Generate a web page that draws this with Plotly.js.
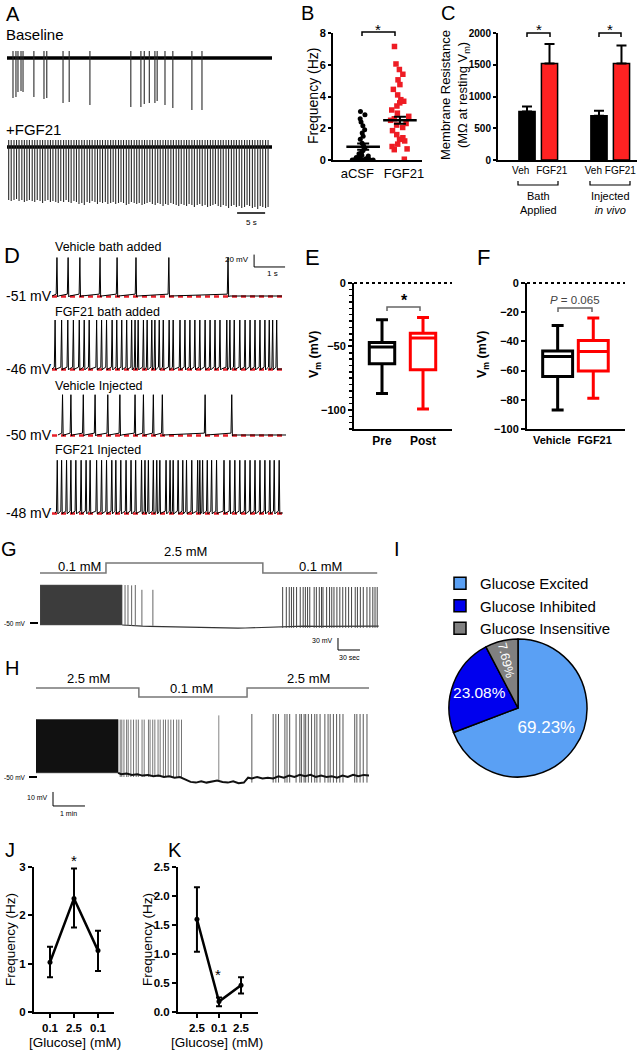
<!DOCTYPE html>
<html><head><meta charset="utf-8">
<script src="https://cdn.plot.ly/plotly-3.0.1.min.js"></script>
<style>html,body{margin:0;padding:0;background:#fff}#chart{width:637px;height:1050px}</style>
</head><body><div id="chart"></div>
<script>
// ================= DATA =================
// A: extracellular recording (spike times in s, amplitudes in a.u.)
const aDuration = 47.3;
const aBaselineSpikeTimes = [1.07,1.6,1.96,2.5,2.86,4.8,6.6,7.1,10.0,11.1,14.8,22.1,23.9,24.5,25.4,26.4,26.8,28.2,29.6,33.0,34.8];
const aBaselineSpikeAmps  = [40,39,34,33,34,39,41,40,45,44,47,49,49,46,45,45,43,47,50,52,52];
const aFgfSpikeTimes = [
 0.30,0.75,1.25,1.70,2.15,2.65,3.10,3.55,4.00,4.50,
 4.95,5.40,5.90,6.35,6.80,7.30,7.75,8.20,8.70,9.15,
 9.60,10.10,10.55,11.00,11.45,11.95,12.40,12.85,13.35,13.80,
 14.30,14.75,15.20,15.70,16.15,16.60,17.05,17.55,18.00,18.50,
 18.95,19.40,19.90,20.35,20.80,21.30,21.75,22.20,22.70,23.15,
 23.60,24.10,24.55,25.00,25.50,25.95,26.45,26.90,27.35,27.85,
 28.30,28.75,29.25,29.70,30.20,30.65,31.10,31.60,32.05,32.50,
 33.00,33.45,33.95,34.40,34.85,35.35,35.80,36.30,36.75,37.20,
 37.70,38.15,38.60,39.10,39.55,40.05,40.50,40.95,41.45,41.90,
 42.40,42.85,43.30,43.80,44.25,44.75,45.20,45.65,46.15,46.60];
const aFgfSpikeAmps = [
 53,54,53,52,54,53,55,54,53,54,
 55,53,54,56,54,53,55,54,55,56,
 54,55,53,55,56,54,55,57,56,58,
 55,56,54,55,57,55,56,55,57,56,
 55,57,56,55,56,58,57,55,56,57,
 56,58,57,56,55,57,58,56,57,59,
 57,58,56,57,58,59,57,58,59,57,
 58,60,58,57,59,58,60,59,58,57,
 59,60,58,59,61,59,58,60,59,61,
 60,58,59,61,60,62,59,60,61,60];
const aScaleSec = 5;

// B: firing frequency (Hz)
const bGroups = ['aCSF','FGF21'];
const bAcsf = [3.05,2.85,2.6,2.4,2.15,1.9,1.7,1.5,1.3,1.05,0.9,0.75,0.6,0.5,0.4,0.3,0.25,0.2,0.15,0.1,0.1,0.08,0.05,0.05,0.03,0.02,0,0,0,0,0,0];
const bFgf  = [7.15,6.05,5.7,5.4,5.05,4.75,4.45,4.1,3.8,3.7,3.6,3.4,3.15,2.95,2.75,2.6,2.5,2.3,2.2,2.05,1.85,1.6,1.4,1.3,1.2,1.0,0.85,0.7,0.65,0.05];
const bMeans = [0.84,2.5];
const bSems  = [0.2,0.22];

// C: membrane resistance (MOhm)
const cGroups = ['Bath<br>Applied','Injected<br><i>in vivo</i>'];
const cConds  = ['Veh','FGF21'];
const cVeh    = [763,695];
const cVehErr = [80,79];
const cFgf    = [1520,1520];
const cFgfErr = [306,285];

// D: whole-cell traces (spike times in s, mV)
const dLabels = ['Vehicle bath added','FGF21 bath added','Vehicle Injected','FGF21 Injected'];
const dRest   = [-51,-46,-50,-48];
const dPeak   = [11,33,15,40];
const dStart  = [0,0,0.19,0.1];
const dEnd    = [7.42,7.42,7.55,7.45];
const dSpikes = [
 [0.16,0.52,0.90,1.55,2.10,2.71,3.77,5.68],
 [0.10,0.31,0.51,0.69,0.88,1.04,1.20,1.44,1.60,1.76,1.94,2.09,2.25,2.41,2.57,2.68,2.78,2.95,3.07,3.22,3.32,3.46,3.59,3.78,3.91,4.13,4.29,4.45,4.61,4.77,4.94,5.10,5.26,5.42,5.64,5.74,5.88,6.06,6.23,6.39,6.55,6.71,6.87,7.01,7.12,7.25],
 [0.34,0.61,1.01,1.39,1.80,2.19,2.68,2.95,3.27,3.56,4.94,5.80],
 [0.17,0.31,0.47,0.61,0.77,0.94,1.10,1.23,1.44,1.60,1.76,1.93,2.06,2.22,2.39,2.55,2.70,2.89,3.00,3.11,3.27,3.38,3.48,3.68,3.81,3.91,4.07,4.22,4.34,4.51,4.70,4.77,4.86,5.01,5.15,5.31,5.55,5.74,5.90,6.06,6.23,6.39,6.55,6.71,6.87,7.03,7.17,7.33]
];
const dScaleMv = 20, dScaleSec = 1;

// E, F: resting membrane potential box plots (mV)
const eCats = ['Pre','Post'];
const eMin = [-87,-99.2], eQ1 = [-63.7,-68.4], eMed = [-50.5,-43.4], eQ3 = [-46.8,-39.5], eMax = [-28.9,-27.1];
const fCats = ['Vehicle','FGF21'];
const fMin = [-87,-79], fQ1 = [-64.1,-60.2], fMed = [-50.3,-46.9], fQ3 = [-46.5,-39.4], fMax = [-29.1,-24];

// G: glucose step 0.1 -> 2.5 -> 0.1 mM (s, mM, mV)
const gStepTimes = [0,90,90,304,304,460];
const gStepConc  = [0.1,0.1,2.5,2.5,0.1,0.1];
const gStepLabels = ['0.1 mM','2.5 mM','0.1 mM'];
const gBurst = {start:0, end:112, top:45, bottom:-55};
const gEarlySpikeTimes = [116,120,125,130,139,154];
const gEarlySpikePeaks = [45,45,44,45,33,33];
const gLateSpikeTimes = [331,336,340,343,346,350,355,359,362,365,368,374,377,381,384,386,391,395,398,401,405,409,413,417,421,425,430,433,437,441,446,450,454,457,460];
const gLatePeak = 40;
const gBaseT = [112,118,125,132,140,150,160,170,180,190,200,210,220,230,240,250,260,270,280,290,300,310,320,328,335,345,360,380,400,420,440,462];
const gBaseV = [-55,-56,-57,-57.5,-58,-58.5,-59,-59.5,-60,-60.5,-61,-61.5,-62,-62,-62.5,-63,-62.5,-63,-62.5,-62,-61.5,-61,-60,-59,-58.5,-58,-58,-58.5,-58,-58.5,-58,-58];
const gScaleMv = 30, gScaleSec = 30;

// H: glucose step 2.5 -> 0.1 -> 2.5 mM
const hStepTimes = [0,193,193,396,396,625];
const hStepConc  = [2.5,2.5,0.1,0.1,2.5,2.5];
const hStepLabels = ['2.5 mM','0.1 mM','2.5 mM'];
const hBurst = {start:0, end:154, top:-9, bottom:-47};
const hMidSpikeTimes = [158,161,165,170,173,178,183,188,192,199,203,211,214,219,223,229,233,239,243,248,253,258,264,268,273];
const hMidPeak = -9;
const hSingleSpikeTimes = [343];
const hSinglePeak = -6;
const hLateSpikeTimes = [405,445,450,455,467,471,476,488,495,498,503,506,511,517,523,527,533,542,548,552,558,564,570,576,598,602,608,614,621];
const hLatePeak = -5;
const hBaseT = [154,160,170,180,190,200,210,220,230,240,250,260,270,280,285,290,300,310,320,330,340,350,360,370,380,390,395,398,405,415,425,435,445,455,465,475,485,495,505,515,525,535,545,555,565,575,585,595,605,615,625];
const hBaseV = [-47,-48,-47.5,-48.5,-48,-49,-48.5,-49.5,-49,-50,-49.5,-50.5,-50,-51.5,-52.5,-53.5,-54,-53,-54,-53,-52.5,-53.5,-54,-53,-54.5,-54,-52,-50.5,-51,-50,-51,-50.5,-51,-49.5,-50.5,-49,-50,-48.5,-49.5,-48.5,-50,-49,-50,-49.5,-50.5,-49,-50,-48.5,-49.5,-48.5,-49];
const hScaleMv = 10, hScaleSec = 60;

// I: pie
const pieLabels = ['Glucose Excited','Glucose Inhibited','Glucose Insensitive'];
const pieCounts = [9,3,1];
const pieColors = ['#5aa0f4','#0000ee','#808080'];

// J, K: frequency vs glucose
const jX = ['0.1','2.5','0.1'];
const jMean = [1.03,2.35,1.27], jErrUp = [0.32,0.62,0.41], jErrDown = [0.31,0.60,0.42];
const kX = ['2.5','0.1','2.5'];
const kMean = [1.6,0.18,0.46], kErrUp = [0.55,0.07,0.14], kErrDown = [0.56,0.08,0.14];

// ================= LAYOUT HELPERS =================
const W = 637, H = 1050;
const FONT = 'Liberation Sans, Arial, Helvetica, sans-serif';
const dx = (a,b) => [a/W, b/W];
const dy = (top,bot) => [1-bot/H, 1-top/H];
const L = {
  width:W, height:H, margin:{l:0,r:0,t:0,b:0},
  paper_bgcolor:'#fff', plot_bgcolor:'rgba(0,0,0,0)',
  font:{family:FONT,color:'#000'}, showlegend:true,
  legend:{x:440/W, y:1-567/H, xanchor:'left', yanchor:'top', bgcolor:'rgba(0,0,0,0)',
          font:{family:FONT,size:15,color:'#000'}, traceorder:'normal'},
  annotations:[], shapes:[]
};
function setAxes(n, xd, xr, yd, yr, xo, yo){
  const xs = n===1?'xaxis':'xaxis'+n, ys = n===1?'yaxis':'yaxis'+n;
  const xa = n===1?'x':'x'+n, ya = n===1?'y':'y'+n;
  L[xs] = Object.assign({domain:xd, range:xr, anchor:ya, visible:false, fixedrange:true, showgrid:false, zeroline:false}, xo||{});
  L[ys] = Object.assign({domain:yd, range:yr, anchor:xa, visible:false, fixedrange:true, showgrid:false, zeroline:false}, yo||{});
}
const boldTick = (s) => ({family:FONT,size:s,color:'#000',weight:'bold'});
const yStyle = (extra) => Object.assign({visible:true, showline:true, linecolor:'#000', linewidth:2, ticks:'outside',
  ticklen:4, tickwidth:2, tickcolor:'#000', tickfont:boldTick(11)}, extra);
const xCat = (vals, text, font, extra) => Object.assign({visible:true, showline:true, linecolor:'#000', linewidth:2,
  ticks:'', tickangle:0, ticklabeloverflow:'allow', tickvals:vals, ticktext:text, tickfont:font}, extra||{});
function ann(text, x, y, size, o){
  o = o||{};
  const a = {text, x:x/W, y:1-y/H, xref:'paper', yref:'paper', showarrow:false,
    font:Object.assign({family:FONT,size,color:'#000'}, o.font||{}),
    xanchor:o.xanchor||'center', yanchor:o.yanchor||'middle'};
  if (o.textangle!==undefined) a.textangle = o.textangle;
  L.annotations.push(a);
}
function pathShape(pts, color, width, dash){
  const p = pts.map((q,i)=>(i?'L':'M')+(q[0]/W)+','+(1-q[1]/H)).join(' ');
  L.shapes.push({type:'path', path:p, xref:'paper', yref:'paper', line:{color, width, dash:dash||'solid'}});
}
const traces = [];
function add(t){ traces.push(Object.assign({hoverinfo:'skip', showlegend:false}, t)); }
function vlines(times, lows, highs){
  const x=[], y=[];
  times.forEach((t,i)=>{ x.push(t,t,null); y.push(Array.isArray(lows)?lows[i]:lows, Array.isArray(highs)?highs[i]:highs, null); });
  return {x,y};
}

// ================= A =================
setAxes(1, dx(7,272), [0,aDuration], dy(44,115), [-57,14]);
setAxes(2, dx(7,272), [0,aDuration], dy(133,215), [-68,14]);
[['x','y',aBaselineSpikeTimes,aBaselineSpikeAmps],['x2','y2',aFgfSpikeTimes,aFgfSpikeAmps]].forEach(([xa,ya,ts,am])=>{
  add({type:'scatter', mode:'lines', x:[0,aDuration], y:[0,0], xaxis:xa, yaxis:ya, line:{color:'#000',width:3.5}});
  const v = vlines(ts, am.map(a=>-a), 7);
  add({type:'scatter', mode:'lines', x:v.x, y:v.y, xaxis:xa, yaxis:ya, line:{color:'#2a2a2a',width:1.1}, connectgaps:false});
});
add({type:'scatter', mode:'lines', x:[41.07,41.07+aScaleSec], y:[-66,-66], xaxis:'x2', yaxis:'y2', line:{color:'#000',width:1.5}});
ann('A',13,14,20); ann('Baseline',4,35,15,{xanchor:'left'}); ann('+FGF21',4,129,15,{xanchor:'left'});
ann(aScaleSec+' s',251,223,8);

// ================= B =================
// points at x = 1, 2; labels sit slightly outward as in the original
setAxes(3, dx(333,422), [0.18,2.6], dy(33,160), [0,8],
  xCat([0.84,2.11], bGroups, {family:FONT,size:13,color:'#000'}),
  yStyle({tickvals:[0,2,4,6,8], ticklen:3}));
add({type:'box', x:bAcsf.map(()=>1), y:bAcsf, xaxis:'x3', yaxis:'y3', boxpoints:'all', jitter:1, pointpos:0, width:0.7,
  fillcolor:'rgba(0,0,0,0)', line:{width:0,color:'rgba(0,0,0,0)'}, marker:{color:'#000',size:5,symbol:'circle'}});
add({type:'box', x:bFgf.map(()=>2), y:bFgf, xaxis:'x3', yaxis:'y3', boxpoints:'all', jitter:0.8, pointpos:0, width:0.7,
  fillcolor:'rgba(0,0,0,0)', line:{width:0,color:'rgba(0,0,0,0)'}, marker:{color:'#ee1c24',size:5.5,symbol:'square'}});
add({type:'scatter', mode:'markers', x:[1,2], y:bMeans, xaxis:'x3', yaxis:'y3',
  marker:{symbol:'line-ew', size:24, color:'#000', line:{color:'#000',width:2.5}},
  error_y:{type:'data', array:bSems, color:'#000', thickness:2, width:6}});
ann('B',307,13,20);
ann('Frequency (Hz)',313,96,14,{textangle:-90});
pathShape([[362,36],[362,32],[395,32],[395,36]],'#000',1.5);
ann('*',378,29,15);

// ================= C =================
const cPos = cGroups.map((_,g)=>1+g*3.2);
const cLabelShift = [[-0.28,0.1],[-0.25,-0.05]];
setAxes(4, dx(498,637), [-0.29,5.89], dy(33,160), [0,2000],
  xCat(cPos.flatMap((p,g)=>[p+cLabelShift[g][0],p+1+cLabelShift[g][1]]), cGroups.flatMap(()=>cConds), {family:FONT,size:10,color:'#000'}),
  yStyle({tickvals:[0,500,1000,1500,2000], ticklen:3, tickfont:boldTick(10)}));
add({type:'bar', x:cPos, y:cVeh, width:0.72, xaxis:'x4', yaxis:'y4', marker:{color:'#000', line:{color:'#000',width:1.5}},
  error_y:{type:'data', symmetric:false, array:cVehErr, arrayminus:cVehErr.map(()=>0), color:'#000', thickness:2, width:5}});
add({type:'bar', x:cPos.map(p=>p+1), y:cFgf, width:0.72, xaxis:'x4', yaxis:'y4', marker:{color:'#ff2222', line:{color:'#000',width:1.5}},
  error_y:{type:'data', symmetric:false, array:cFgfErr, arrayminus:cFgfErr.map(()=>0), color:'#000', thickness:2, width:5}});
ann('C',448,13,20);
ann('Membrane Resistance<br>(MΩ at resting V<sub>m</sub>)',455,95,13,{textangle:-90});
[[527,550],[599,621]].forEach(([a,b])=>{ pathShape([[a,37],[a,33],[b,33],[b,37]],'#000',1.5); ann('*',(a+b)/2,29,15); });
[[518,558],[590,630]].forEach(([a,b],g)=>{ pathShape([[a,181],[a,185],[b,185],[b,181]],'#000',1.2); ann(cGroups[g],(a+b)/2,203,11); });

// ================= D =================
const dBasePx = [296,369,435,513], dPxPerMv = 0.62;
dRest.forEach((r,i)=>{
  const n = 5+i, xa='x'+n, ya='y'+n;
  const bot = dBasePx[i] + 8*dPxPerMv, top = bot - 93*dPxPerMv;
  setAxes(n, dx(52,286), [0,7.55], dy(top,bot), [r-8, r+85]);
  add({type:'scatter', mode:'lines', x:[0,7.5], y:[r-1,r-1], xaxis:xa, yaxis:ya, line:{color:'#e8202a',width:2.5,dash:'5px,4px'}});
  const x=[dStart[i]], y=[r];
  dSpikes[i].forEach(t=>{ x.push(t-0.025,t,t+0.02,t+0.045); y.push(r+3,dPeak[i],r-1.5,r); });
  x.push(dEnd[i]); y.push(r);
  add({type:'scatter', mode:'lines', x, y, xaxis:xa, yaxis:ya, line:{color:'#000',width:1}});
  ann(dLabels[i],53,[247,312,386,450][i],12.5,{xanchor:'left'});
  ann(r+' mV',4,dBasePx[i],14,{xanchor:'left'});
});
add({type:'scatter', mode:'lines', x:[6.52,6.52,6.52+dScaleSec], y:[-4.2+dScaleMv,-4.2,-4.2], xaxis:'x5', yaxis:'y5', line:{color:'#000',width:1}});
ann(dScaleMv+' mV',251,259,8,{xanchor:'right'}); ann(dScaleSec+' s',272,273,8);
ann('D',12,255,22);

// ================= E, F =================
setAxes(9, dx(354,452), [0.317,2.707], dy(283,429), [-115,0],
  xCat([1,2], eCats, boldTick(12)),
  yStyle({tickvals:[0,-50,-100], minor:{dtick:5, ticks:'outside', ticklen:3, tickwidth:1.5, tickcolor:'#000'}}));
setAxes(10, dx(527,625), [0.14,2.89], dy(283,429), [-100,0],
  xCat([0.84,2.04], fCats, boldTick(11)),
  yStyle({tickvals:[0,-20,-40,-60,-80,-100]}));
[[9,eMin,eQ1,eMed,eQ3,eMax,0.62,0.47],[10,fMin,fQ1,fMed,fQ3,fMax,0.84,0.4]].forEach(([n,mn,q1,md,q3,mx,w,ww])=>{
  ['#000','#ff0000'].forEach((col,i)=>{
    add({type:'box', x:[i+1], q1:[q1[i]], median:[md[i]], q3:[q3[i]], lowerfence:[mn[i]], upperfence:[mx[i]],
      xaxis:'x'+n, yaxis:'y'+n, width:w, whiskerwidth:ww, boxpoints:false, fillcolor:'#fff', line:{color:col,width:3}});
  });
});
pathShape([[354,283],[452,283]],'#000',2,'dot');
pathShape([[527,283],[625,283]],'#000',2,'dot');
pathShape([[387,311],[387,307],[420,307],[420,311]],'#666',1.5);
pathShape([[558,312],[558,308],[592,308],[592,312]],'#666',1.5);
ann('*',404,300,16,{font:{weight:'bold'}});
ann('<i>P</i> = 0.065',575,300,11.5,{font:{color:'#444'}});
ann('V<sub>m</sub> (mV)',315,355,12.5,{textangle:-90, font:{weight:'bold'}});
ann('V<sub>m</sub> (mV)',483,355,12.5,{textangle:-90, font:{weight:'bold'}});
ann('E',312,257,22); ann('F',483,257,22);

// ================= G =================
setAxes(11, dx(40,380), [0,463.8], dy(560,576), [-0.62,3.22]);
setAxes(12, dx(40,380), [0,463.8], dy(580,652), [-122.5,57.5]);
add({type:'scatter', mode:'lines', x:gStepTimes, y:gStepConc, xaxis:'x11', yaxis:'y11', line:{color:'#777',width:1.5}});
add({type:'scatter', mode:'lines', x:[gBurst.start,gBurst.end,gBurst.end,gBurst.start,gBurst.start],
  y:[gBurst.bottom,gBurst.bottom,gBurst.top,gBurst.top,gBurst.bottom], fill:'toself', fillcolor:'#3c3c3c',
  xaxis:'x12', yaxis:'y12', line:{color:'#555',width:0.5}});
add({type:'scatter', mode:'lines', x:gBaseT, y:gBaseV, xaxis:'x12', yaxis:'y12', line:{color:'#333',width:1.2}});
let v = vlines(gEarlySpikeTimes, -57, gEarlySpikePeaks);
add({type:'scatter', mode:'lines', x:v.x, y:v.y, xaxis:'x12', yaxis:'y12', line:{color:'#666',width:1}});
v = vlines(gLateSpikeTimes, -62, gLatePeak);
add({type:'scatter', mode:'lines', x:v.x, y:v.y, xaxis:'x12', yaxis:'y12', line:{color:'#444',width:1}});
add({type:'scatter', mode:'lines', x:[406.5,406.5,406.5+gScaleSec], y:[-117.5+gScaleMv,-117.5,-117.5], xaxis:'x12', yaxis:'y12', line:{color:'#000',width:1}});
ann('G',9,549,20);
ann(gStepLabels[0],79,566,13); ann(gStepLabels[1],185,551,13); ann(gStepLabels[2],320,566,13);
ann('-50 mV',28,623,6.5,{xanchor:'right'}); pathShape([[30,623],[38,623]],'#000',2);
ann(gScaleMv+' mV',335,640,7,{xanchor:'right'}); ann(gScaleSec+' sec',349,657,7);

// ================= H =================
setAxes(13, dx(36,369), [0,624.8], dy(684,701), [-0.97,3.57]);
setAxes(14, dx(36,369), [0,624.8], dy(705,812), [-75,1.43]);
add({type:'scatter', mode:'lines', x:hStepTimes, y:hStepConc, xaxis:'x13', yaxis:'y13', line:{color:'#777',width:1.5}});
add({type:'scatter', mode:'lines', x:[hBurst.start,hBurst.end,hBurst.end,hBurst.start,hBurst.start],
  y:[hBurst.bottom,hBurst.bottom,hBurst.top,hBurst.top,hBurst.bottom], fill:'toself', fillcolor:'#111',
  xaxis:'x14', yaxis:'y14', line:{color:'#111',width:0.5}});
v = vlines(hMidSpikeTimes, -50, hMidPeak);
add({type:'scatter', mode:'lines', x:v.x, y:v.y, xaxis:'x14', yaxis:'y14', line:{color:'#666',width:0.9}});
v = vlines(hSingleSpikeTimes, -53, hSinglePeak);
add({type:'scatter', mode:'lines', x:v.x, y:v.y, xaxis:'x14', yaxis:'y14', line:{color:'#777',width:0.9}});
v = vlines(hLateSpikeTimes, -54, hLatePeak);
add({type:'scatter', mode:'lines', x:v.x, y:v.y, xaxis:'x14', yaxis:'y14', line:{color:'#444',width:0.9}});
add({type:'scatter', mode:'lines', x:hBaseT, y:hBaseV, xaxis:'x14', yaxis:'y14', line:{color:'#111',width:2}});
add({type:'scatter', mode:'lines', x:[31.9,31.9,31.9+hScaleSec], y:[-70.7+hScaleMv,-70.7,-70.7], xaxis:'x14', yaxis:'y14', line:{color:'#000',width:1}});
ann('H',12,668,20);
ann(hStepLabels[0],88,679,13); ann(hStepLabels[1],192,688,13); ann(hStepLabels[2],308,679,13);
ann('-50 mV',28,777,6.5,{xanchor:'right'}); pathShape([[29,777],[37,777]],'#000',2);
ann(hScaleMv+' mV',50,797,7,{xanchor:'right'}); ann('1 min',68,813,7);

// ================= I =================
const pieDomain = {x:dx(449,587), y:dy(639,777)};
add({type:'pie', labels:pieLabels, values:pieCounts, showlegend:true, sort:false, direction:'clockwise', rotation:0,
  marker:{colors:pieColors, line:{color:'#000',width:1.5}}, domain:pieDomain,
  texttemplate:'%{percent:.2%}', textposition:['inside','inside','none'], insidetextorientation:'horizontal',
  textfont:{family:FONT,color:'#fff',size:17}});
add({type:'pie', labels:pieLabels, values:pieCounts, sort:false, direction:'clockwise', rotation:0,
  marker:{colors:['rgba(0,0,0,0)','rgba(0,0,0,0)','rgba(0,0,0,0)'], line:{width:0}}, domain:pieDomain,
  texttemplate:'%{percent:.2%}', textposition:['none','none','inside'], insidetextorientation:'radial',
  textfont:{family:FONT,color:'#fff',size:16}});
ann('I',397,549,20);

// ================= J, K =================
setAxes(15, dx(34,114), [0.333,3.667], dy(867,1012), [0,3],
  xCat([1,2,3], jX, boldTick(11.5), {ticks:'outside',ticklen:4,tickwidth:2,tickcolor:'#000'}),
  yStyle({tickvals:[0,1,2,3], tickfont:boldTick(11.5)}));
setAxes(16, dx(178,258), [0.14,3.77], dy(867,1012), [0,2.5],
  xCat([1,2,3], kX, boldTick(11.5), {ticks:'outside',ticklen:4,tickwidth:2,tickcolor:'#000'}),
  yStyle({tickvals:[0,0.5,1,1.5,2,2.5], tickformat:'.1f', tickfont:boldTick(11.5)}));
[[15,jX,jMean,jErrUp,jErrDown],[16,kX,kMean,kErrUp,kErrDown]].forEach(([n,xs,m,up,dn])=>{
  add({type:'scatter', mode:'lines+markers', x:xs.map((_,i)=>i+1), y:m, xaxis:'x'+n, yaxis:'y'+n,
    line:{color:'#000',width:2.5}, marker:{color:'#000',size:5},
    error_y:{type:'data', symmetric:false, array:up, arrayminus:dn, color:'#000', thickness:2, width:3}});
});
ann('J',10,850,20); ann('K',175,850,20);
ann('Frequency (Hz)',10,940,13.5,{textangle:-90}); ann('Frequency (Hz)',147,940,13.5,{textangle:-90});
ann('[Glucose] (mM)',75,1042,13.5); ann('[Glucose] (mM)',217,1042,13.5);
ann('*',74,860,15); ann('*',218,974,15);

Plotly.newPlot('chart', traces, L, {staticPlot:true, displayModeBar:false});
</script>
</body></html>
